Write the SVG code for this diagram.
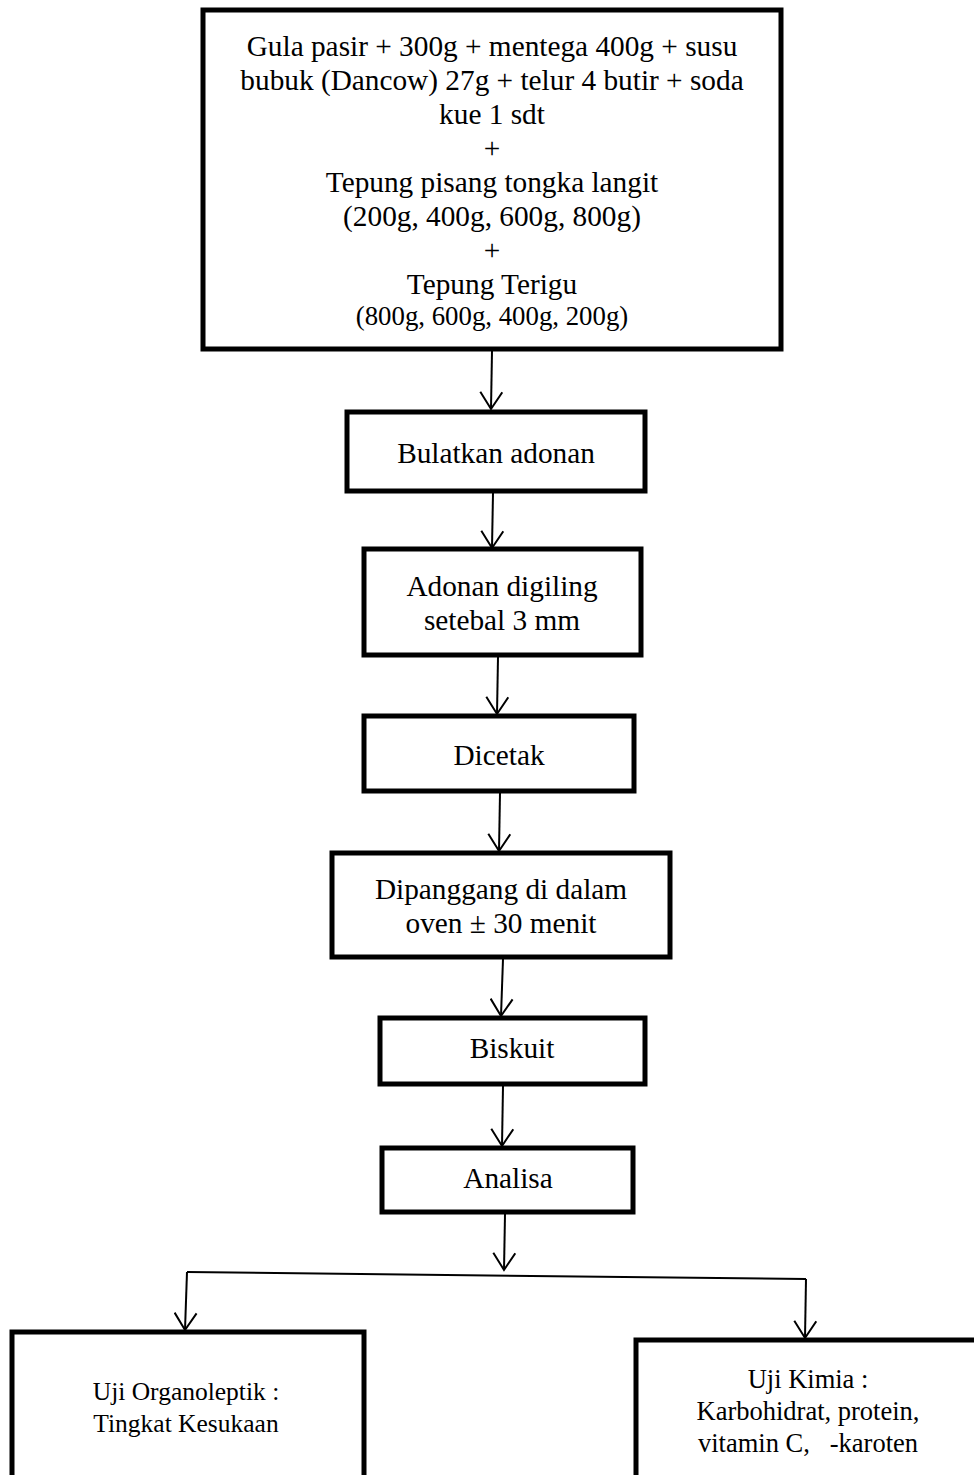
<svg xmlns="http://www.w3.org/2000/svg" width="974" height="1475" viewBox="0 0 974 1475">
<style>
.box{fill:#fff;stroke:#000;stroke-width:5}
.t{font-family:"Liberation Serif","Times New Roman",serif;fill:#000;text-anchor:middle}
.big{font-size:29.3px}
.mid{font-size:26.8px}
.sl{font-size:25.5px}
.sr{font-size:26.5px}
.c{stroke:#000;stroke-width:2;fill:none}
</style>
<defs>
<marker id="ah" markerWidth="20" markerHeight="24" refX="18" refY="12" orient="auto" markerUnits="userSpaceOnUse" viewBox="0 0 20 24">
<polyline points="1,1 18,12 1,23" fill="none" stroke="#000" stroke-width="2"/>
</marker>
</defs>
<rect width="974" height="1475" fill="#fff"/>
<g id="connectors">
<line class="c" x1="492" y1="351" x2="491" y2="409" marker-end="url(#ah)"/>
<line class="c" x1="493" y1="493" x2="492" y2="548" marker-end="url(#ah)"/>
<line class="c" x1="498" y1="657" x2="497" y2="714" marker-end="url(#ah)"/>
<line class="c" x1="500" y1="793" x2="499" y2="851" marker-end="url(#ah)"/>
<line class="c" x1="503" y1="959" x2="501" y2="1016" marker-end="url(#ah)"/>
<line class="c" x1="503" y1="1086" x2="502" y2="1146" marker-end="url(#ah)"/>
<line class="c" x1="505" y1="1214" x2="504" y2="1270" marker-end="url(#ah)"/>
<line class="c" x1="187" y1="1272" x2="806" y2="1279"/>
<line class="c" x1="187" y1="1272" x2="185" y2="1330" marker-end="url(#ah)"/>
<line class="c" x1="806" y1="1279" x2="805" y2="1338" marker-end="url(#ah)"/>
</g>
<g id="n1">
<rect class="box" x="203" y="10" width="578" height="339"/>
<text class="t big" x="492" y="56">Gula pasir + 300g + mentega 400g + susu</text>
<text class="t big" x="492" y="90">bubuk (Dancow) 27g + telur 4 butir + soda</text>
<text class="t big" x="492" y="124">kue 1 sdt</text>
<text class="t big" x="492" y="158">+</text>
<text class="t big" x="492" y="192">Tepung pisang tongka langit</text>
<text class="t big" x="492" y="226">(200g, 400g, 600g, 800g)</text>
<text class="t big" x="492" y="260">+</text>
<text class="t big" x="492" y="294">Tepung Terigu</text>
<text class="t mid" x="492" y="325">(800g, 600g, 400g, 200g)</text>
</g>
<g id="n2">
<rect class="box" x="347" y="412" width="298" height="79"/>
<text class="t big" x="496" y="463">Bulatkan adonan</text>
</g>
<g id="n3">
<rect class="box" x="364" y="549" width="277" height="106"/>
<text class="t big" x="502" y="596">Adonan digiling</text>
<text class="t big" x="502" y="630">setebal 3 mm</text>
</g>
<g id="n4">
<rect class="box" x="364" y="716" width="270" height="75"/>
<text class="t big" x="499" y="765">Dicetak</text>
</g>
<g id="n5">
<rect class="box" x="332" y="853" width="338" height="104"/>
<text class="t big" x="501" y="899">Dipanggang di dalam</text>
<text class="t big" x="501" y="933">oven ± 30 menit</text>
</g>
<g id="n6">
<rect class="box" x="380" y="1018" width="265" height="66"/>
<text class="t big" x="512" y="1058">Biskuit</text>
</g>
<g id="n7">
<rect class="box" x="382" y="1148" width="251" height="64"/>
<text class="t big" x="508" y="1188">Analisa</text>
</g>
<g id="n8">
<rect class="box" x="12" y="1332" width="352" height="160"/>
<text class="t sl" x="186" y="1400">Uji Organoleptik :</text>
<text class="t sl" x="186" y="1432">Tingkat Kesukaan</text>
</g>
<g id="n9">
<rect class="box" x="636" y="1340" width="350" height="160"/>
<text class="t sr" x="808" y="1388">Uji Kimia :</text>
<text class="t sr" x="808" y="1420">Karbohidrat, protein,</text>
<text class="t sr" x="808" y="1452" xml:space="preserve">vitamin C,   -karoten</text>
</g>
</svg>
